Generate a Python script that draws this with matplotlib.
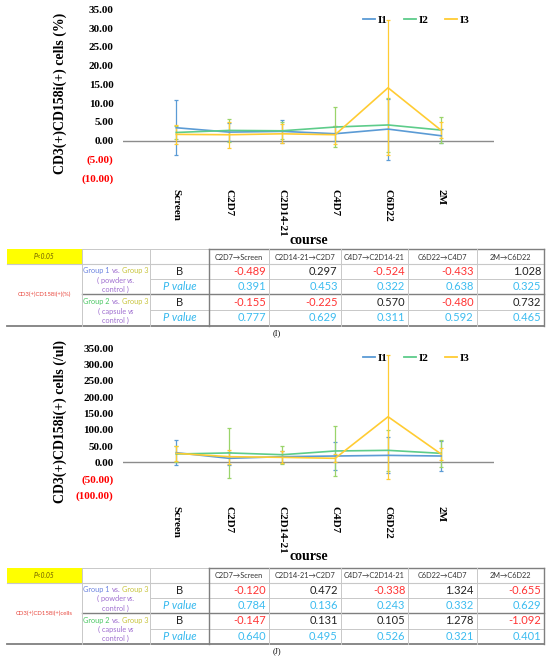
import matplotlib
matplotlib.use("Agg")
import matplotlib.pyplot as plt
from matplotlib.lines import Line2D
import numpy as np

courses = ["Screen", "C2D7", "C2D14-21", "C4D7", "C6D22", "2M"]
series_names = ["I1", "I2", "I3"]

# (I) CD3(+)CD158i(+) cells (%)
pct_i1 = [3.46, 2.3, 2.5, 1.87, 3.1, 1.33]
pct_i1_err = [7.3, 2.3, 3.0, 2.0, 8.1, 1.8]
pct_i2 = [2.2, 2.75, 2.65, 3.65, 4.2, 2.85]
pct_i2_err = [1.8, 3.0, 2.3, 5.4, 7.2, 3.4]
pct_i3 = [1.7, 1.6, 1.85, 1.6, 14.1, 2.8]
pct_i3_err = [2.5, 3.4, 2.5, 2.4, 18.0, 2.2]

# (J) CD3(+)CD158i(+) cells (/ul)
cnt_i1 = [29.8, 12.5, 17.5, 19.6, 21.6, 19.6]
cnt_i1_err = [38, 20, 19, 44, 55, 46]
cnt_i2 = [25.8, 29.0, 23.6, 35.0, 37.0, 27.8]
cnt_i2_err = [25, 78, 28, 76, 63, 41]
cnt_i3 = [27.8, 17.5, 15.5, 12.5, 140.0, 25.8]
cnt_i3_err = [23, 22, 18, 12, 190, 18]

# tables
headers = ["C2D7\u2192Screen", "C2D14-21\u2192C2D7", "C4D7\u2192C2D14-21", "C6D22\u2192C4D7", "2M\u2192C6D22"]
tab_i_b1 = [-0.489, 0.297, -0.524, -0.433, 1.028]
tab_i_p1 = [0.391, 0.453, 0.322, 0.638, 0.325]
tab_i_b2 = [-0.155, -0.225, 0.570, -0.480, 0.732]
tab_i_p2 = [0.777, 0.629, 0.311, 0.592, 0.465]
tab_j_b1 = [-0.120, 0.472, -0.338, 1.324, -0.655]
tab_j_p1 = [0.784, 0.136, 0.243, 0.332, 0.629]
tab_j_b2 = [-0.147, 0.131, 0.105, 1.278, -1.092]
tab_j_p2 = [0.640, 0.495, 0.526, 0.321, 0.401]

line_colors = ["#5b9bd5", "#5dcc8a", "#ffcc33"]
err_colors = ["#5b9bd5", "#9ad46a", "#ffcc33"]
SERIF = "Liberation Serif"
SANS = ["Lato", "DejaVu Sans"]

W, H = 550, 659
fig = plt.figure(figsize=(W / 100, H / 100), dpi=100)


def px_rect(left, top, right, bottom):
    return [left / W, 1 - bottom / H, (right - left) / W, (bottom - top) / H]


def draw_chart(rect, vals, errs, ymin, ymax, step, ylabel):
    ax = fig.add_axes(rect)
    x = np.arange(len(courses))
    for v, e, lc, ec in zip(vals, errs, line_colors, err_colors):
        ax.errorbar(x, v, yerr=e, color=lc, ecolor=ec, lw=1.2, elinewidth=0.9,
                    capsize=1.5, capthick=0.9)
    ax.axhline(0, color="#8c8c8c", lw=1.0, zorder=0)
    ax.set_xlim(-1, 6)
    ax.set_ylim(ymin, ymax)
    ticks = np.arange(ymin, ymax + step / 2, step)
    ax.set_yticks(ticks)
    ax.set_yticklabels([f"{t:.2f}" if t >= 0 else f"({-t:.2f})" for t in ticks],
                       family=SERIF, fontweight="bold", fontsize=8)
    for lbl, t in zip(ax.get_yticklabels(), ticks):
        if t < 0:
            lbl.set_color("#ff0000")
    ax.set_xticks(x)
    ax.set_xticklabels(courses, rotation=-90, family=SERIF, fontweight="bold", fontsize=8)
    ax.tick_params(length=0)
    ax.tick_params(axis="y", pad=7)
    ax.tick_params(axis="x", pad=8)
    for s in ax.spines.values():
        s.set_visible(False)
    ax.set_ylabel(ylabel, family=SERIF, fontweight="bold", fontsize=10)
    ax.yaxis.set_label_coords(-0.153, 0.5)
    handles = [Line2D([], [], color=c, lw=1.3) for c in line_colors]
    ax.legend(handles, series_names, ncol=3, loc="center", bbox_to_anchor=(0.79, 0.934),
              frameon=False, prop={"family": SERIF, "weight": "bold", "size": 8},
              handlelength=1.1, handletextpad=0.2, columnspacing=1.5)
    return ax


draw_chart(px_rect(123.3, 9.3, 494, 178.3),
           [pct_i1, pct_i2, pct_i3], [pct_i1_err, pct_i2_err, pct_i3_err],
           -10, 35, 5, "CD3(+)CD158i(+) cells (%)")
draw_chart(px_rect(123.3, 348.3, 494, 495),
           [cnt_i1, cnt_i2, cnt_i3], [cnt_i1_err, cnt_i2_err, cnt_i3_err],
           -100, 350, 50, "CD3(+)CD158i(+) cells (/ul)")

# overlay in pixel coordinates for tables and captions
tx = fig.add_axes([0, 0, 1, 1])
tx.set_xlim(0, W)
tx.set_ylim(H, 0)
tx.axis("off")
renderer = fig.canvas.get_renderer()


def rich_text(xc, y, parts, size, gap=1.5):
    items = []
    for s, c, st in parts:
        t = tx.text(0, y, s, color=c, fontstyle=st, fontsize=size, family=SANS,
                    ha="left", va="center")
        items.append((t, t.get_window_extent(renderer).width))
    total = sum(w for _, w in items) + gap * (len(items) - 1)
    xpos = xc - total / 2
    for t, w in items:
        t.set_x(xpos)
        xpos += w + gap


col_x = [6.7, 81.7, 150, 209, 269.3, 340.7, 408.3, 476.7, 544.3]
row_rel = [0, 14.7, 29.7, 45.0, 60.7, 76.4]
LIGHT = "#c8c8c8"
DARK = "#7f7f7f"


def fmt_color(v):
    return "#ff3333" if v < 0 else "#222222"


def draw_table(top, label, b1, p1, b2, p2):
    ys = [top + r for r in row_rel]
    tx.fill_between([col_x[0], col_x[1]], ys[0], ys[1], color="#ffff00", lw=0)
    tx.text((col_x[0] + col_x[1]) / 2, (ys[0] + ys[1]) / 2, "P<0.05", fontstyle="italic",
            fontsize=4.8, color="#6b5a00", family=SANS, ha="center", va="center")
    # horizontal lines
    tx.plot([col_x[1], col_x[3]], [ys[0], ys[0]], color=LIGHT, lw=0.7)
    tx.plot([col_x[3], col_x[8]], [ys[0], ys[0]], color=DARK, lw=1.0)
    tx.plot([col_x[0], col_x[8]], [ys[1], ys[1]], color=LIGHT, lw=0.8)
    tx.plot([col_x[2], col_x[8]], [ys[2], ys[2]], color=LIGHT, lw=0.7)
    tx.plot([col_x[1], col_x[8]], [ys[3], ys[3]], color=DARK, lw=1.0)
    tx.plot([col_x[2], col_x[8]], [ys[4], ys[4]], color=LIGHT, lw=0.7)
    tx.plot([col_x[0], col_x[8]], [ys[5], ys[5]], color=DARK, lw=1.3)
    # vertical lines
    for i, xv in enumerate(col_x[1:], start=1):
        dark = i in (3, 8)
        tx.plot([xv, xv], [ys[0], ys[5]], color=DARK if dark else LIGHT, lw=1.0 if dark else 0.7)
    # header
    for j, h in enumerate(headers):
        tx.text((col_x[3 + j] + col_x[4 + j]) / 2, (ys[0] + ys[1]) / 2 + 0.5, h, fontsize=5.3,
                color="#333333", family=SANS, ha="center", va="center")
    tx.text((col_x[0] + col_x[1]) / 2, (ys[1] + ys[5]) / 2, label, fontsize=4.3,
            color="#e8463c", family=SANS, ha="center", va="center")
    gx = (col_x[1] + col_x[2]) / 2
    vs_c, g3_c, sub_c = "#9966cc", "#c8c43c", "#a070d0"
    rich_text(gx, top + 21.4, [("Group 1", "#6c84e0", "normal"), ("vs.", vs_c, "normal"),
                                ("Group 3", g3_c, "normal")], 5.3)
    rich_text(gx, top + 31.0, [("( powder", sub_c, "normal"), ("vs.", sub_c, "italic")], 5.3)
    rich_text(gx, top + 40.4, [("control )", sub_c, "normal")], 5.3)
    rich_text(gx, top + 52.4, [("Group 2", "#4cc864", "normal"), ("vs.", vs_c, "normal"),
                                ("Group 3", g3_c, "normal")], 5.3)
    rich_text(gx, top + 62.0, [("( capsule", sub_c, "normal"), ("vs", sub_c, "italic")], 5.3)
    rich_text(gx, top + 70.7, [("control )", sub_c, "normal")], 5.3)
    bx = (col_x[2] + col_x[3]) / 2
    for r, (kind, vals) in enumerate([("B", b1), ("P", p1), ("B", b2), ("P", p2)]):
        yc = (ys[r + 1] + ys[r + 2]) / 2
        if kind == "B":
            tx.text(bx, yc, "B", fontsize=8, color="#222222", family=SANS, ha="center", va="center")
        else:
            tx.text(bx, yc, "P value", fontsize=8, fontstyle="italic", color="#33b8ee",
                    family=SANS, ha="center", va="center")
        for j, v in enumerate(vals):
            color = fmt_color(v) if kind == "B" else "#3cbcf0"
            tx.text(col_x[4 + j] - 3, yc, f"{v:.3f}", fontsize=8, color=color, family=SANS,
                    ha="right", va="center")


draw_table(249.3, "CD3(+)CD158i(+)(%)", tab_i_b1, tab_i_p1, tab_i_b2, tab_i_p2)
draw_table(567.8, "CD3(+)CD158i(+)cells", tab_j_b1, tab_j_p1, tab_j_b2, tab_j_p2)

for yc in (240.5, 557):
    tx.text(309, yc, "course", family=SERIF, fontweight="bold", fontsize=10,
            ha="center", va="center")
tx.text(277, 333, "(I)", family=SERIF, fontsize=6, ha="center", va="center")
tx.text(277, 651, "(J)", family=SERIF, fontsize=6, ha="center", va="center")

fig.savefig("out.png", dpi=100)
